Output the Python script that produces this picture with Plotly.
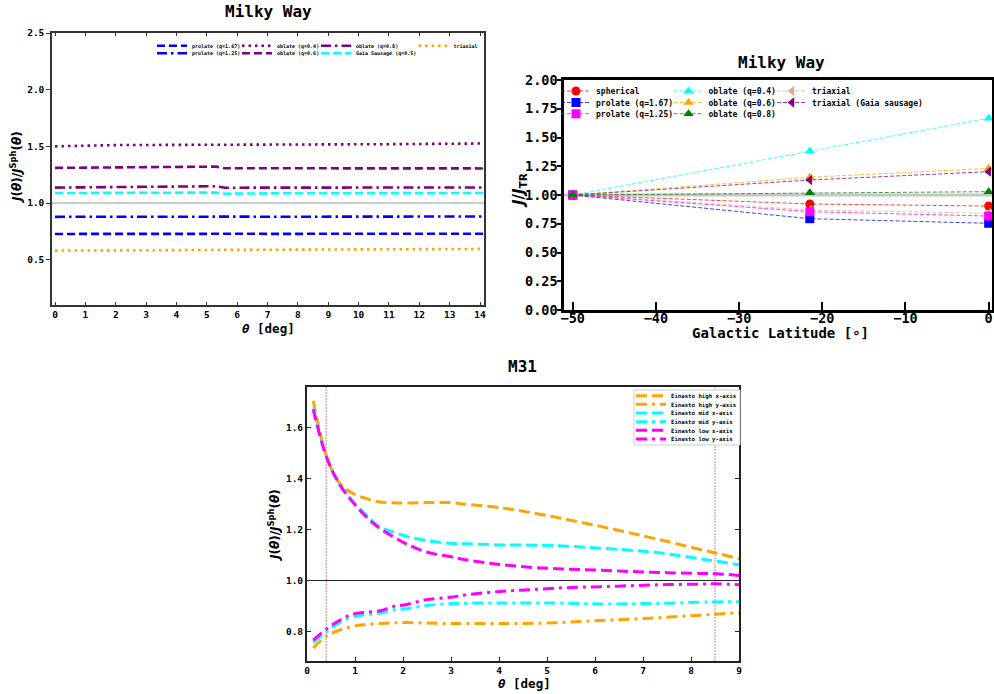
import plotly.graph_objects as go

MONO = "DejaVu Sans Mono"
SANS = "DejaVu Sans"
W, H = 994, 694

# ---------------- Top-left: Milky Way, J(theta)/J_sph(theta) vs theta ----------------
mw_theta = [0, 1, 2, 3, 4, 5, 5.3, 5.6, 6, 7, 8, 9, 10, 11, 12, 13, 14.1]
mw_prolate_167 = [0.727, 0.726, 0.727, 0.728, 0.728, 0.728, 0.729, 0.728, 0.728, 0.728, 0.728, 0.728, 0.729, 0.729, 0.729, 0.729, 0.729]
mw_prolate_125 = [0.878, 0.877, 0.878, 0.879, 0.879, 0.879, 0.880, 0.879, 0.879, 0.879, 0.879, 0.879, 0.879, 0.880, 0.880, 0.880, 0.881]
mw_oblate_04 = [1.500, 1.508, 1.511, 1.512, 1.512, 1.513, 1.515, 1.512, 1.514, 1.515, 1.516, 1.517, 1.518, 1.519, 1.520, 1.522, 1.525]
mw_oblate_06 = [1.310, 1.312, 1.313, 1.313, 1.313, 1.315, 1.321, 1.306, 1.307, 1.307, 1.307, 1.306, 1.306, 1.306, 1.306, 1.305, 1.305]
mw_oblate_08 = [1.136, 1.138, 1.139, 1.140, 1.141, 1.143, 1.148, 1.135, 1.136, 1.136, 1.136, 1.136, 1.136, 1.136, 1.137, 1.137, 1.137]
mw_gaia = [1.088, 1.089, 1.088, 1.089, 1.090, 1.091, 1.092, 1.082, 1.084, 1.085, 1.086, 1.087, 1.087, 1.087, 1.088, 1.088, 1.088]
mw_triaxial = [0.580, 0.581, 0.582, 0.583, 0.583, 0.584, 0.584, 0.585, 0.585, 0.586, 0.587, 0.588, 0.589, 0.590, 0.592, 0.593, 0.595]
mw_xticks = list(range(0, 15))
mw_yticks = [0.5, 1.0, 1.5, 2.0, 2.5]

# ---------------- Top-right: Milky Way, J/J_TR vs Galactic latitude ----------------
lat = [-50, -21.5, 0]
lat_spherical = [1.0, 0.922, 0.904]
lat_prolate_167 = [1.0, 0.794, 0.754]
lat_prolate_125 = [1.0, 0.855, 0.817]
lat_oblate_04 = [1.0, 1.383, 1.667]
lat_oblate_06 = [1.0, 1.154, 1.232]
lat_oblate_08 = [1.0, 1.020, 1.029]
lat_triaxial = [1.0, 0.870, 0.841]
lat_triaxial_gaia = [1.0, 1.130, 1.203]
lat_xticks = [-50, -40, -30, -20, -10, 0]

# ---------------- Bottom: M31 ----------------
m31_theta = [0.13, 0.41, 0.69, 0.97, 1.24, 1.52, 1.80, 2.08, 2.49, 2.98, 3.33, 4.02, 4.72, 5.41, 6.10, 6.80, 7.49, 8.19, 8.53, 9.0]
m31_high_x = [1.706, 1.486, 1.380, 1.341, 1.322, 1.308, 1.305, 1.304, 1.306, 1.306, 1.299, 1.286, 1.265, 1.240, 1.213, 1.184, 1.154, 1.122, 1.108, 1.085]
m31_high_y = [0.735, 0.783, 0.806, 0.821, 0.827, 0.831, 0.834, 0.835, 0.833, 0.831, 0.831, 0.831, 0.832, 0.836, 0.843, 0.849, 0.856, 0.864, 0.868, 0.874]
m31_mid_x = [1.676, 1.483, 1.374, 1.308, 1.256, 1.210, 1.190, 1.173, 1.157, 1.146, 1.144, 1.140, 1.139, 1.135, 1.127, 1.118, 1.105, 1.085, 1.076, 1.062]
m31_mid_y = [0.757, 0.800, 0.836, 0.858, 0.866, 0.872, 0.885, 0.889, 0.902, 0.909, 0.911, 0.912, 0.912, 0.911, 0.908, 0.909, 0.911, 0.915, 0.916, 0.917]
m31_low_x = [1.672, 1.483, 1.374, 1.304, 1.249, 1.204, 1.172, 1.143, 1.112, 1.094, 1.081, 1.063, 1.051, 1.045, 1.041, 1.035, 1.031, 1.028, 1.027, 1.020]
m31_low_y = [0.766, 0.810, 0.845, 0.869, 0.876, 0.881, 0.898, 0.906, 0.925, 0.934, 0.944, 0.957, 0.965, 0.972, 0.976, 0.980, 0.984, 0.986, 0.987, 0.983]
m31_vlines = [0.4, 8.5]
m31_xticks = list(range(0, 10))
m31_yticks = [0.8, 1.0, 1.2, 1.4, 1.6]


def px(x):
    return x / W


def py(y):
    return 1 - y / H


fig = go.Figure()
legends = {}
leg_count = [0]


def new_legend(text_x, y, size):
    leg_count[0] += 1
    name = "legend" if leg_count[0] == 1 else "legend%d" % leg_count[0]
    legends[name] = dict(
        x=px(text_x - 40), y=py(y), xanchor="left", yanchor="middle",
        bgcolor="rgba(0,0,0,0)", borderwidth=0,
        font=dict(family=MONO, size=size, color="black", weight="bold"),
        itemclick=False, itemdoubleclick=False,
    )
    return name


# Top-left traces
DASH = "8px,4px"
DOT = "2.5px,4px"
DASHDOT = "10px,4px,2.5px,4px"
tl_specs = [
    ("prolate (q=1.67)", mw_prolate_167, "#0000ff", DASH, 192, 45.7),
    ("oblate (q=0.4)", mw_oblate_04, "#800080", DOT, 277, 45.7),
    ("oblate (q=0.8)", mw_oblate_08, "#800080", DASHDOT, 356, 45.7),
    ("triaxial", mw_triaxial, "#ffa500", DOT, 453.5, 45.7),
    ("prolate (q=1.25)", mw_prolate_125, "#0000ff", DASHDOT, 192, 53.3),
    ("oblate (q=0.6)", mw_oblate_06, "#800080", DASH, 277, 53.3),
    ("Gaia Sausage (q=0.5)", mw_gaia, "#00ffff", DASH, 356, 53.3),
]
for name, ys, col, dash, lx, ly in tl_specs:
    fig.add_trace(go.Scatter(
        x=mw_theta, y=ys, mode="lines", name=name,
        line=dict(color=col, width=2.6, dash=dash),
        xaxis="x", yaxis="y", legend=new_legend(lx, ly, 5),
    ))

# Top-right traces
tr_specs = [
    ("spherical", lat_spherical, "255,0,0", "circle", 596, 91),
    ("oblate (q=0.4)", lat_oblate_04, "0,255,255", "triangle-up", 708.5, 91),
    ("triaxial", lat_triaxial, "210,180,140", "triangle-left", 812, 91),
    ("prolate (q=1.67)", lat_prolate_167, "0,0,255", "square", 596, 102.5),
    ("oblate (q=0.6)", lat_oblate_06, "255,165,0", "triangle-up", 708.5, 102.5),
    ("triaxial (Gaia sausage)", lat_triaxial_gaia, "128,0,128", "triangle-left", 812, 102.5),
    ("prolate (q=1.25)", lat_prolate_125, "255,0,255", "square", 596, 113.7),
    ("oblate (q=0.8)", lat_oblate_08, "0,128,0", "triangle-up", 708.5, 113.7),
]
for name, ys, rgb, sym, lx, ly in tr_specs:
    fig.add_trace(go.Scatter(
        x=lat, y=ys, mode="lines+markers", name=name,
        line=dict(color="rgba(%s,0.75)" % rgb, width=1, dash="4px,2px"),
        marker=dict(color="rgb(%s)" % rgb, symbol=sym, size=9),
        xaxis="x2", yaxis="y2", legend=new_legend(lx, ly, 8),
    ))

# Bottom traces
BDASH = "11px,5px"
BDASHDOT = "11px,5px,3px,5px"
b_specs = [
    ("Einasto high x-axis", m31_high_x, "#ffa500", BDASH, 395.7),
    ("Einasto high y-axis", m31_high_y, "#ffa500", BDASHDOT, 404.3),
    ("Einasto mid x-axis", m31_mid_x, "#00ffff", BDASH, 413.0),
    ("Einasto mid y-axis", m31_mid_y, "#00ffff", BDASHDOT, 421.7),
    ("Einasto low x-axis", m31_low_x, "#ff00ff", BDASH, 430.3),
    ("Einasto low y-axis", m31_low_y, "#ff00ff", BDASHDOT, 439.0),
]
for name, ys, col, dash, ly in b_specs:
    fig.add_trace(go.Scatter(
        x=m31_theta, y=ys, mode="lines", name=name, line_shape="spline",
        line=dict(color=col, width=3, dash=dash),
        xaxis="x3", yaxis="y3", legend=new_legend(671, ly, 5.7),
    ))

shapes = [
    dict(type="line", xref="x domain", yref="y", x0=0, x1=1, y0=1, y1=1,
         line=dict(color="#999999", width=1.2), layer="below"),
    dict(type="line", xref="x2 domain", yref="y2", x0=0, x1=1, y0=1, y1=1,
         line=dict(color="rgba(160,160,160,0.6)", width=3), layer="below"),
    dict(type="line", xref="x3 domain", yref="y3", x0=0, x1=1, y0=1, y1=1,
         line=dict(color="#222222", width=1), layer="below"),
]
for v in m31_vlines:
    shapes.append(dict(type="line", xref="x3", yref="y3 domain", x0=v, x1=v, y0=0, y1=1,
                       line=dict(color="rgba(178,34,34,0.7)", width=0.8, dash="2px,1px"), layer="below"))
# legend frame for bottom panel
shapes.append(dict(type="rect", xref="paper", yref="paper",
                   x0=px(634), x1=px(740), y0=py(445), y1=py(390),
                   line=dict(color="#cccccc", width=1), fillcolor="white", layer="above"))


def tick_font(size):
    return dict(family=MONO, size=size, color="black", weight="bold")


common = dict(showgrid=False, zeroline=False, showline=True, automargin=False)

layout = dict(
    width=W, height=H, autosize=False,
    margin=dict(l=0, r=0, t=0, b=0, pad=0, autoexpand=False),
    paper_bgcolor="white", plot_bgcolor="white",
    xaxis=dict(domain=[px(52), px(484)], range=[-0.1, 14.13], tickvals=mw_xticks,
               ticks="inside", ticklen=3, tickwidth=1, tickcolor="#333", linecolor="#333",
               linewidth=1.5, mirror="ticks", tickfont=tick_font(9.5), anchor="y", **common),
    yaxis=dict(domain=[py(305), py(33)], range=[0.1, 2.5], tickvals=mw_yticks, tickformat=".1f",
               ticks="outside", ticklen=4, tickwidth=1, tickcolor="#333", linecolor="#333",
               linewidth=1.5, mirror=True, tickfont=tick_font(9.5), anchor="x", **common),
    xaxis2=dict(domain=[px(564), px(992)], range=[-51.05, 0.4], tickvals=lat_xticks,
                ticks="inside", ticklen=8, tickwidth=2, tickcolor="black", linecolor="black",
                linewidth=2.5, mirror=True, tickfont=tick_font(13.5), anchor="y2",
                ticklabelstandoff=-6, **common),
    yaxis2=dict(domain=[py(310), py(80)], range=[0, 2], dtick=0.25, tick0=0, tickformat=".2f",
                ticks="outside", ticklen=4, tickwidth=2, tickcolor="black", linecolor="black",
                linewidth=2.5, mirror=True, tickfont=tick_font(13.5), anchor="x2",
                ticklabelstandoff=-3, **common),
    xaxis3=dict(domain=[px(307), px(739)], range=[0, 9], tickvals=m31_xticks,
                ticks="inside", ticklen=4, tickwidth=1, tickcolor="#222", linecolor="#222",
                linewidth=2, mirror=True, tickfont=tick_font(9.5), anchor="y3", **common),
    yaxis3=dict(domain=[py(661), py(387)], range=[0.684, 1.76], tickvals=m31_yticks, tickformat=".1f",
                ticks="inside", ticklen=4, tickwidth=1, tickcolor="#222", linecolor="#222",
                linewidth=2, mirror="ticks", tickfont=tick_font(9.5), anchor="x3", **common),
    shapes=shapes,
    showlegend=True,
)
layout.update(legends)


def ann(text, x, y, size, family=MONO, angle=0):
    return dict(text=text, x=px(x), y=py(y), xref="paper", yref="paper",
                xanchor="center", yanchor="middle", showarrow=False, textangle=angle,
                font=dict(family=family, size=size, color="black", weight="bold"))


JLABEL = "<i>J</i>(<i>θ</i>)/<i>J</i><sup>Sph</sup>(<i>θ</i>)"
layout["annotations"] = [
    ann("Milky Way", 268, 12, 16),
    ann("Milky Way", 781, 62, 16),
    ann("M31", 522, 366, 16),
    ann(JLABEL, 16, 167, 12, SANS, -90),
    ann("<i>θ</i> [deg]", 268, 328, 12.5),
    ann("<i>J</i>/<i>J</i><sub>TR</sub>", 519, 191, 15, SANS, -90),
    ann("Galactic Latitude [∘]", 780, 333, 14),
    ann(JLABEL, 274, 525, 12, SANS, -90),
    ann("<i>θ</i> [deg]", 524, 683, 12.5),
]

fig.update_layout(**layout)
fig.write_html(
    "out.html",
    post_script="document.body.style.margin='0';document.body.style.padding='0';"
                "document.documentElement.style.overflow='hidden';",
)
